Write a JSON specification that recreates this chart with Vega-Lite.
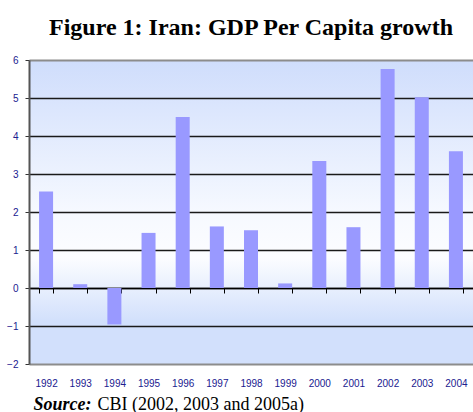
{
  "$schema": "https://vega.github.io/schema/vega-lite/v6.json",
  "autosize": {"type": "none"},
  "padding": {"left": 29, "top": 60, "right": 0, "bottom": 48},
  "width": 444,
  "height": 304,
  "background": "white",
  "view": {
    "stroke": null,
    "fill": {"gradient": "linear", "x1": 0, "y1": 0, "x2": 0, "y2": 1,
      "stops": [
        {"offset": 0, "color": "#cfddfc"},
        {"offset": 0.5, "color": "#f6f9ff"},
        {"offset": 0.65, "color": "#fcfdff"},
        {"offset": 0.86, "color": "#d2e0fc"},
        {"offset": 1, "color": "#d2e0fc"}
      ]}
  },
  "title": {
    "text": "Figure 1: Iran: GDP Per Capita growth",
    "font": "Liberation Serif",
    "fontSize": 24,
    "fontWeight": "bold",
    "color": "black",
    "anchor": "middle",
    "frame": "group",
    "baseline": "alphabetic",
    "offset": 29,
    "dy": 33
  },
  "data": {"values": [
    {"year": "1992", "growth": 2.54},
    {"year": "1993", "growth": 0.1},
    {"year": "1994", "growth": -0.96},
    {"year": "1995", "growth": 1.45},
    {"year": "1996", "growth": 4.5},
    {"year": "1997", "growth": 1.62},
    {"year": "1998", "growth": 1.52},
    {"year": "1999", "growth": 0.12},
    {"year": "2000", "growth": 3.34},
    {"year": "2001", "growth": 1.6},
    {"year": "2002", "growth": 5.76},
    {"year": "2003", "growth": 5.02},
    {"year": "2004", "growth": 3.6}
  ]},
  "mark": {"type": "bar", "color": "#9999ff"},
  "encoding": {
    "x": {
      "field": "year", "type": "ordinal",
      "scale": {"paddingInner": 0.59, "paddingOuter": 0.295},
      "axis": {
        "title": "CBI (2002, 2003 and 2005a)",
        "titleFont": "Liberation Serif",
        "titleFontSize": 18,
        "titleFontWeight": "normal",
        "titleColor": "black",
        "titleAnchor": "start",
        "titleAlign": "left",
        "titleBaseline": "alphabetic",
        "titleX": 68,
        "titleY": 121,
        "offset": -76,
        "labelAngle": 0,
        "labelFont": "Liberation Sans",
        "labelFontSize": 10,
        "labelColor": "#20208f",
        "labelPadding": 85,
        "tickBand": "extent",
        "tickSize": 5,
        "tickColor": "#000000",
        "tickWidth": 1,
        "domainColor": "#000000",
        "domainWidth": 1.5,
        "grid": false
      }
    },
    "y": {
      "field": "growth", "type": "quantitative",
      "scale": {"domain": [-2, 6], "nice": false, "zero": false},
      "axis": {
        "values": [-2, -1, 0, 1, 2, 3, 4, 5, 6],
        "title": "Source:",
        "titleFont": "Liberation Serif",
        "titleFontSize": 18,
        "titleFontWeight": "bold",
        "titleFontStyle": "italic",
        "titleColor": "black",
        "titleAngle": 0,
        "titleAlign": "left",
        "titleBaseline": "alphabetic",
        "titleX": 4,
        "titleY": 349,
        "labelFont": "Liberation Sans",
        "labelFontSize": 10,
        "labelColor": "#20208f",
        "labelPadding": 7,
        "tickSize": 4,
        "tickColor": "#333333",
        "domainColor": "#555555",
        "domainWidth": 2,
        "grid": true,
        "gridColor": {"condition": {"test": "datum.value == 6 || datum.value == -2", "value": "#8c8c8c"}, "value": "#1a1a1a"},
        "gridWidth": {"condition": {"test": "datum.value == 6 || datum.value == -2", "value": 2}, "value": 1.4}
      }
    }
  }
}
